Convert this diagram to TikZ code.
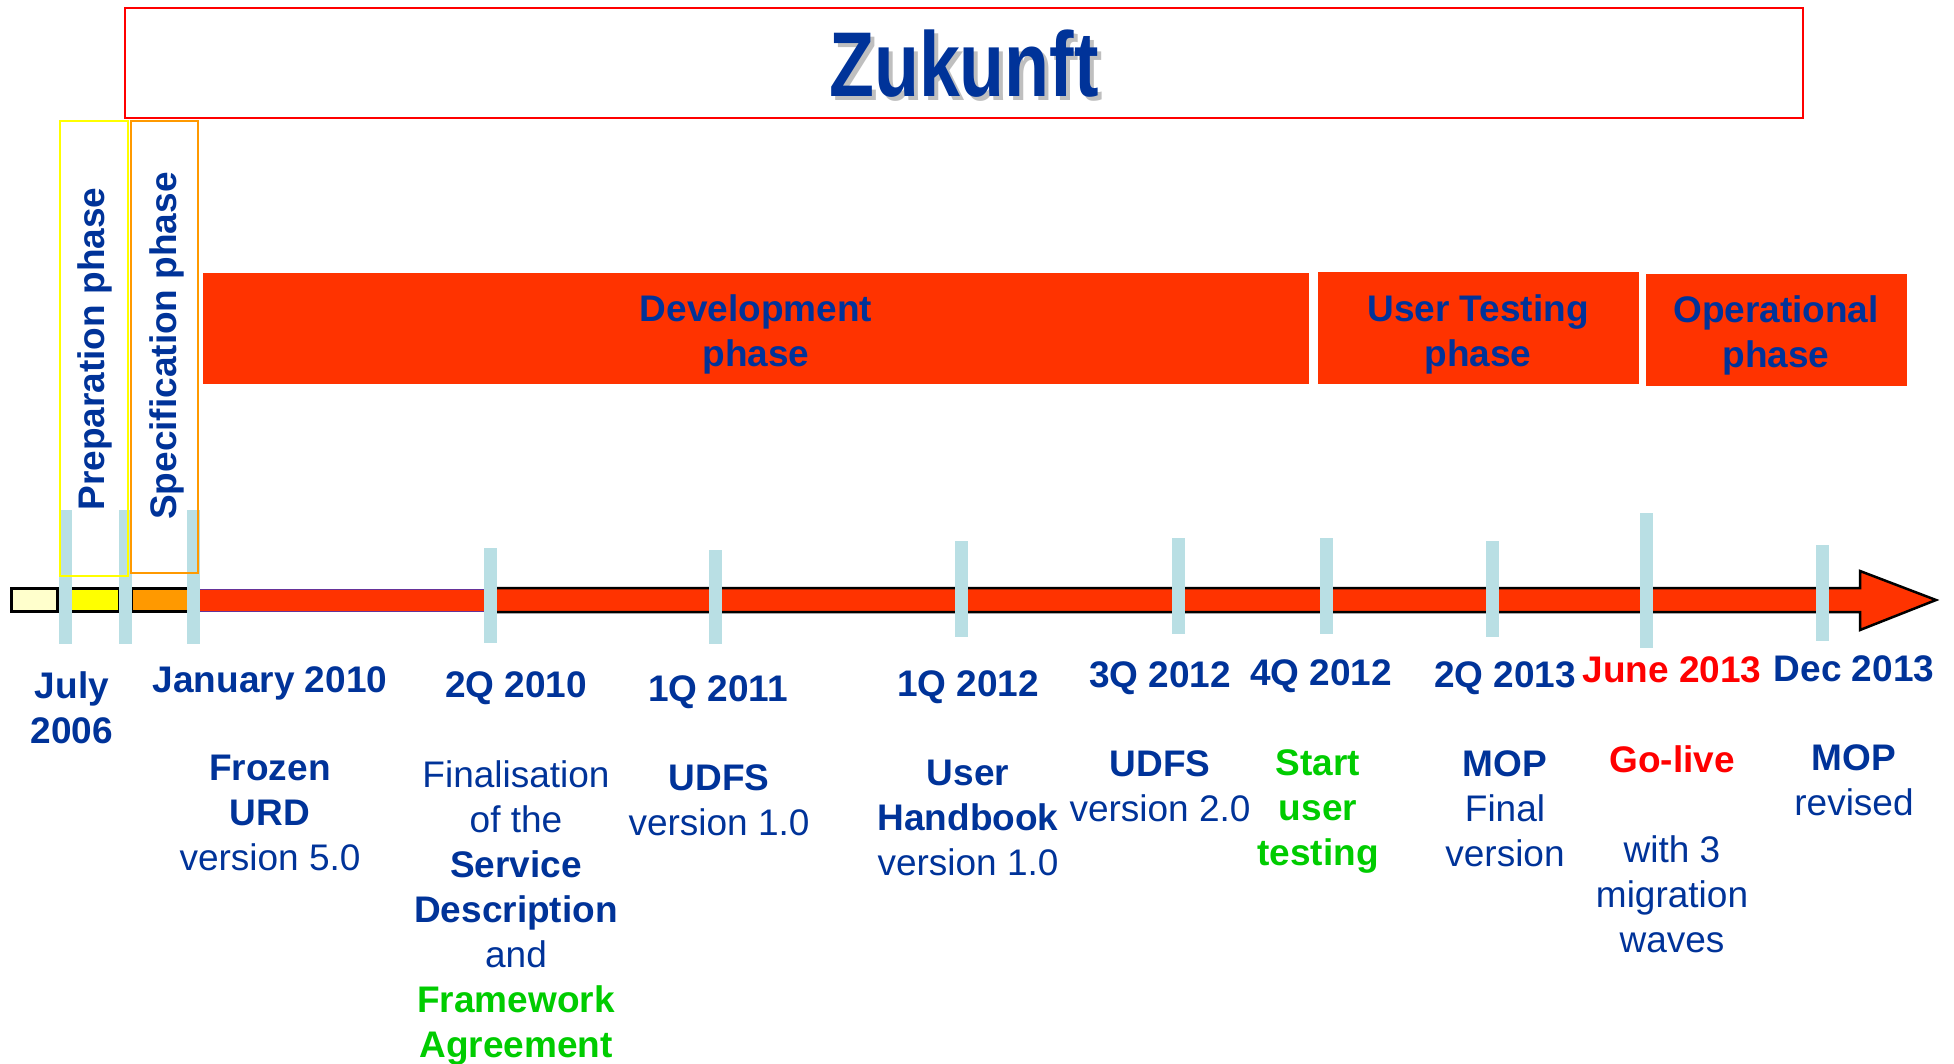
\documentclass[tikz,border=0pt]{standalone}
\usepackage{fontspec}
\setmainfont{Liberation Sans}
\definecolor{dblue}{HTML}{003399}
\definecolor{barred}{HTML}{FF3300}
\definecolor{tickblue}{HTML}{B9DFE4}
\definecolor{lyellow}{HTML}{FFFFCC}
\definecolor{myyellow}{HTML}{FFFF00}
\definecolor{myorange}{HTML}{FF9900}
\definecolor{mygreen}{HTML}{00CC00}
\definecolor{myred}{HTML}{FF0000}
\definecolor{mypurple}{HTML}{663399}
\newcommand\myfs{\fontsize{37}{45}\selectfont}
\begin{document}
\begin{tikzpicture}[x=1pt,y=-1pt,
  lbl/.style={inner sep=0pt, align=center, font=\myfs\bfseries, text=dblue, anchor=north},
  desc/.style={inner sep=0pt, align=center, font=\myfs, text=dblue, anchor=north},
  phasebar/.style={fill=barred, draw=none},
  tickmark/.style={fill=tickblue, draw=none}]
\useasboundingbox (0,0) rectangle (1954,1063);
\fill[white] (0,0) rectangle (1954,1063);
% title
\draw[myred, line width=2pt] (125,8) rectangle (1803,118);
\node[inner sep=0pt, text=gray!50, font=\fontsize{92}{92}\selectfont\bfseries] (titleshadow) at (968,68) {\scalebox{0.8}[1]{Zukunft}};
\node[inner sep=0pt, text=dblue, font=\fontsize{92}{92}\selectfont\bfseries] (title) at (964,64) {\scalebox{0.8}[1]{Zukunft}};
% phase bars
\fill[phasebar] (203,273) rectangle (1309,384);
\fill[phasebar] (1318,272) rectangle (1639,384);
\fill[phasebar] (1646,274) rectangle (1907,386);
\node[lbl] (dev) at (756,294) {Development\\phase};
\node[lbl] (ut) at (1478,294) {User Testing\\phase};
\node[lbl] (op) at (1776,295) {Operational\\phase};
% timeline
\filldraw[fill=barred, draw=mypurple, line width=1pt] (199,589) rectangle (492,611);
\filldraw[fill=barred, draw=black, line width=2.5pt, line join=miter]
  (488,588) -- (1860,588) -- (1860,571) -- (1936,600) -- (1860,630) -- (1860,612) -- (488,612) -- cycle;
\fill[black] (10,587) rectangle (59,613);
\fill[lyellow] (13,590) rectangle (56,610);
\fill[black] (69,587) rectangle (121,613);
\fill[myyellow] (72,590) rectangle (118,610);
\fill[black] (130,587) rectangle (190,613);
\fill[myorange] (133,590) rectangle (187,610);
% ticks
\foreach \x/\a/\b in {65/510/644, 125/510/644, 193/510/644, 490/548/643, 715/550/644, 961/541/637, 1178/538/634, 1326/538/634, 1492/541/637, 1646/513/648, 1822/545/641}
  \fill[tickmark] (\x-6.5,\a) rectangle (\x+6.5,\b);
% early phase boxes
\draw[myyellow, line width=2pt] (60,121) rectangle (128,576);
\draw[myorange, line width=2pt] (131,121) rectangle (198,573);
\node[inner sep=0pt, rotate=90, font=\myfs\bfseries, text=dblue] (prep) at (95,349) {Preparation phase};
\node[inner sep=0pt, rotate=90, font=\myfs\bfseries, text=dblue] (spec) at (167,346) {Specification phase};
% dates
\node[lbl] (d1) at (72,671) {July\\2006};
\node[lbl] (d2) at (270,666) {January 2010};
\node[lbl] (d3) at (516,671) {2Q 2010};
\node[lbl] (d4) at (718,675) {1Q 2011};
\node[lbl] (d5) at (968,670) {1Q 2012};
\node[lbl] (d6) at (1160,661) {3Q 2012};
\node[lbl] (d7) at (1321,659) {4Q 2012};
\node[lbl] (d8) at (1505,661) {2Q 2013};
\node[lbl, text=myred] (d9) at (1672,656) {June 2013};
\node[lbl] (d10) at (1854,655) {Dec 2013};
% descriptions
\node[desc] (e2) at (270,755) {\textbf{Frozen}\\\textbf{URD}\\version 5.0};
\node[desc] (e3) at (516,760) {Finalisation\\of the\\\textbf{Service}\\\textbf{Description}\\and\\\textcolor{mygreen}{\textbf{Framework}}\\\textcolor{mygreen}{\textbf{Agreement}}};
\node[desc] (e4) at (719,764) {\textbf{UDFS}\\version 1.0};
\node[desc] (e5) at (968,760) {\textbf{User}\\\textbf{Handbook}\\version 1.0};
\node[desc] (e6) at (1160,750) {\textbf{UDFS}\\version 2.0};
\node[desc, text=mygreen, font=\myfs\bfseries] (e7) at (1318,749) {Start\\user\\testing};
\node[desc] (e8) at (1505,750) {\textbf{MOP}\\Final\\version};
\node[desc] (e9) at (1672,745) {\textcolor{myred}{\textbf{Go-live}}\\[45pt]with 3\\migration\\waves};
\node[desc] (e10) at (1854,744) {\textbf{MOP}\\revised};
\end{tikzpicture}
\end{document}
